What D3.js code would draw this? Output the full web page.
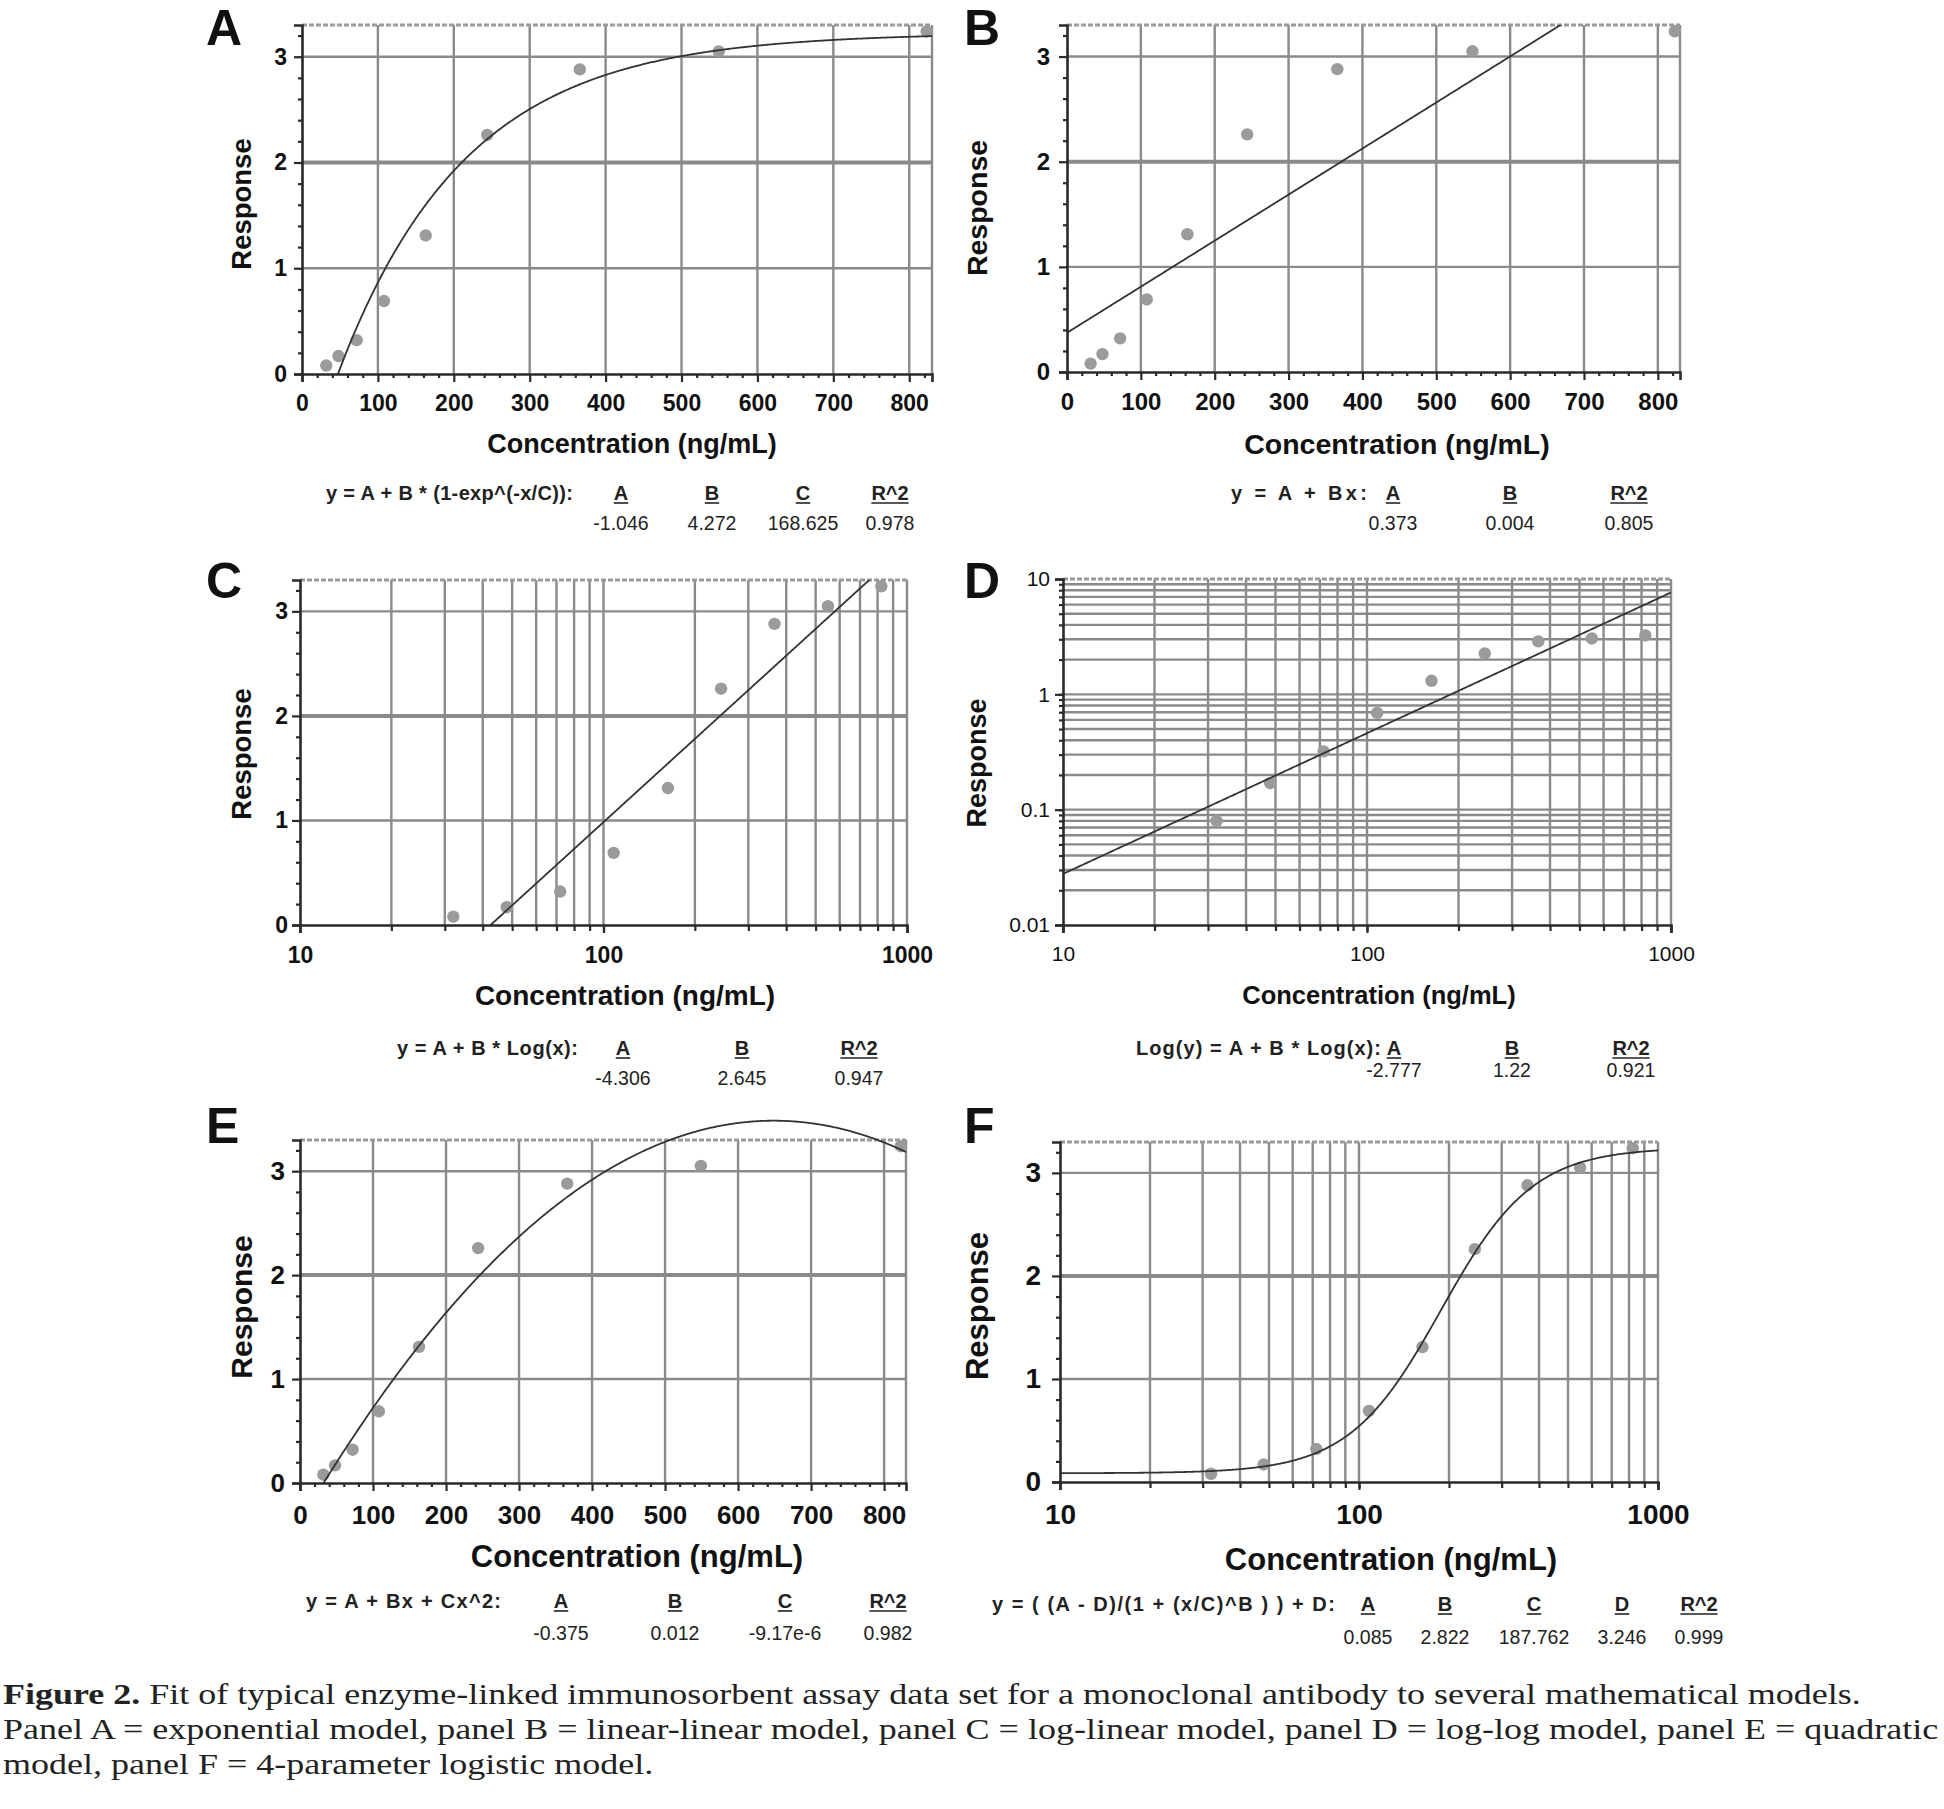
<!DOCTYPE html>
<html><head><meta charset="utf-8">
<script src="https://cdn.jsdelivr.net/npm/d3@7"></script>
<style>
body{margin:0;background:#fff;}
svg{display:block;}
</style>
</head><body>
<svg id="fig" width="1944" height="1809"></svg>
<script>
// ---------------- DATA ----------------
const concentration = [32, 48, 72, 108, 163, 244, 366, 549, 823];
const response      = [0.08, 0.17, 0.32, 0.69, 1.31, 2.26, 2.88, 3.05, 3.24];

const linearXTickLabels = [0, 100, 200, 300, 400, 500, 600, 700, 800];
const logXTickLabels    = [10, 100, 1000];
const linearYTickLabels = [0, 1, 2, 3];
const logYTickLabels    = [0.01, 0.1, 1, 10];

// fitted-model parameters (used to draw the fit lines)
const paramsA = [-1.046, 4.272, 168.625];          // y = A + B(1-exp(-x/C))
const paramsB = [0.373, 0.00438];                  // y = A + Bx
const paramsC = [-4.306, 2.645];                   // y = A + B log(x)
const paramsD = [-2.777, 1.22];                    // log y = A + B log(x)
const paramsE = [-0.375, 0.0119, -9.17e-6];        // y = A + Bx + Cx^2
const paramsF = [0.085, 2.822, 187.762, 3.246];    // 4PL

// table text shown under each panel
const equationTexts = [
  "y = A + B * (1-exp^(-x/C)):",
  "y = A + Bx:",
  "y = A + B * Log(x):",
  "Log(y) = A + B * Log(x):",
  "y = A + Bx + Cx^2:",
  "y = ( (A - D)/(1 + (x/C)^B ) ) + D:"
];
const tableHeaders = [
  ["A","B","C","R^2"],
  ["A","B","R^2"],
  ["A","B","R^2"],
  ["A","B","R^2"],
  ["A","B","C","R^2"],
  ["A","B","C","D","R^2"]
];
const tableValues = [
  ["-1.046","4.272","168.625","0.978"],
  ["0.373","0.004","0.805"],
  ["-4.306","2.645","0.947"],
  ["-2.777","1.22","0.921"],
  ["-0.375","0.012","-9.17e-6","0.982"],
  ["0.085","2.822","187.762","3.246","0.999"]
];
const panelLetters = ["A","B","C","D","E","F"];
const xTitle = "Concentration (ng/mL)";
const yTitle = "Response";
const captionBold = "Figure 2.";
const captionLines = [
  " Fit of typical enzyme-linked immunosorbent assay data set for a monoclonal antibody to several mathematical models.",
  "Panel A = exponential model, panel B = linear-linear model, panel C = log-linear model, panel D = log-log model, panel E = quadratic",
  "model, panel F = 4-parameter logistic model."
];

// model functions
const models = [
  x => paramsA[0] + paramsA[1]*(1 - Math.exp(-x/paramsA[2])),
  x => paramsB[0] + paramsB[1]*x,
  x => paramsC[0] + paramsC[1]*Math.log10(x),
  x => Math.pow(10, paramsD[0] + paramsD[1]*Math.log10(x)),
  x => paramsE[0] + paramsE[1]*x + paramsE[2]*x*x,
  x => (paramsF[0]-paramsF[3])/(1 + Math.pow(x/paramsF[2], paramsF[1])) + paramsF[3]
];

// ---------------- LAYOUT ----------------
const layout = [
  {x0:302, x1:932, y0:374, y1:25, xLog:false, yLog:false, letter:[206,45], resp:[241,204,27.5], title:[632,444,27],
   tickFont:23, xLabDy:37, yLabGap:15, eq:{end:573, w:247, hy:500, vy:530, cols:[621,712,803,890]}, yThick:true, clipTop:0},
  {x0:1067, x1:1680, y0:372, y1:25, xLog:false, yLog:false, letter:[964,45], resp:[977,208,28.5], title:[1397,444,28.5],
   tickFont:24, xLabDy:38, yLabGap:17, eq:{end:1367, w:136, hy:500, vy:530, cols:[1393,1510,1629]}, yThick:true, clipTop:0},
  {x0:300, x1:907, y0:925, y1:580, xLog:true, yLog:false, letter:[206,598], resp:[241,754,27.5], title:[625,995,28],
   tickFont:23, xLabDy:38, yLabGap:12, eq:{end:578, w:181, hy:1055, vy:1085, cols:[623,742,859]}, yThick:true, clipTop:0},
  {x0:1063, x1:1671, y0:925, y1:579, xLog:true, yLog:true, letter:[964,598], resp:[977,763,27], title:[1379,995,25.5],
   tickFont:21, xLabDy:36, yLabGap:13, eq:{end:1381, w:245, hy:1055, vy:1077, cols:[1394,1512,1631]}, yThick:false, clipTop:0, light:true},
  {x0:300, x1:906, y0:1483, y1:1140, xLog:false, yLog:false, letter:[206,1143], resp:[241,1307,30], title:[637,1556,31],
   tickFont:26, xLabDy:41, yLabGap:15, eq:{end:501, w:195, hy:1608, vy:1640, cols:[561,675,785,888]}, yThick:true, clipTop:60},
  {x0:1060, x1:1658, y0:1482, y1:1142, xLog:true, yLog:false, letter:[964,1143], resp:[977,1306,31], title:[1391,1559,31],
   tickFont:28, xLabDy:42, yLabGap:19, eq:{end:1335, w:343, hy:1611, vy:1644, cols:[1368,1445,1534,1622,1699]}, yThick:true, clipTop:0}
];

const svg = d3.select("#fig");
const FONT = "'Liberation Sans', Arial, sans-serif";
const GRID = "#8a8a8a";
const AXIS = "#2a2a2a";

layout.forEach((L, i) => {
  const g = svg.append("g");
  const x = L.xLog ? d3.scaleLog().domain([10, 1000]).range([L.x0, L.x1])
                   : d3.scaleLinear().domain([0, 830]).range([L.x0, L.x1]);
  const y = L.yLog ? d3.scaleLog().domain([0.01, 10]).range([L.y0, L.y1])
                   : d3.scaleLinear().domain([0, 3.3]).range([L.y0, L.y1]);

  // grid positions
  let xGrid, xMinor;
  if (L.xLog) {
    xGrid = [];
    [10, 100].forEach(d => { for (let k = 1; k <= 9; k++) xGrid.push(d*k); });
    xGrid = xGrid.filter(v => v > 10);
    xMinor = xGrid.slice();
  } else {
    xGrid = linearXTickLabels.filter(v => v > 0);
    xMinor = d3.range(20, 830, 20).filter(v => v % 100 !== 0);
  }
  let yGrid, yMinor;
  if (L.yLog) {
    yGrid = [];
    [0.01, 0.1, 1].forEach(d => { for (let k = 1; k <= 9; k++) yGrid.push(d*k); });
    yGrid = yGrid.filter(v => v > 0.0100001);
    yMinor = yGrid.slice();
  } else {
    yGrid = [1, 2, 3];
    yMinor = d3.range(0.2, 3.3, 0.2).filter(v => Math.abs(v - Math.round(v)) > 0.01);
  }

  // vertical grid
  g.append("g").selectAll("line").data(xGrid).join("line")
    .attr("x1", d => x(d)).attr("x2", d => x(d))
    .attr("y1", L.y0).attr("y2", L.y1)
    .attr("stroke", GRID).attr("stroke-width", 2.4);
  // horizontal grid
  g.append("g").selectAll("line").data(yGrid).join("line")
    .attr("x1", L.x0).attr("x2", L.x1)
    .attr("y1", d => y(d)).attr("y2", d => y(d))
    .attr("stroke", GRID)
    .attr("stroke-width", d => (L.yThick && d === 2) ? 4 : 2.4);
  // right frame & top frame
  g.append("line").attr("x1", L.x1).attr("x2", L.x1).attr("y1", L.y0).attr("y2", L.y1)
    .attr("stroke", GRID).attr("stroke-width", 2.4);
  g.append("line").attr("x1", L.x0).attr("x2", L.x1).attr("y1", L.y1).attr("y2", L.y1)
    .attr("stroke", "#9a9a9a").attr("stroke-width", 3).attr("stroke-dasharray", "5,2");

  // clip
  const cid = "clip" + i;
  svg.append("defs").append("clipPath").attr("id", cid).append("rect")
    .attr("x", L.x0).attr("y", L.y1 - L.clipTop)
    .attr("width", L.x1 - L.x0).attr("height", L.y0 - L.y1 + L.clipTop);

  // points
  g.append("g").selectAll("circle").data(concentration.map((c, k) => [c, response[k]])).join("circle")
    .attr("cx", d => x(d[0])).attr("cy", d => y(d[1])).attr("r", 6.2)
    .attr("fill", "#9b9b9b");

  // fitted curve
  const xs = L.xLog
    ? d3.range(0, 601).map(k => Math.pow(10, 1 + 2*k/600))
    : d3.range(0, 601).map(k => 830*k/600);
  const line = d3.line().x(d => x(d)).y(d => y(models[i](d))).defined(d => isFinite(models[i](d)) && models[i](d) > (L.yLog ? 0 : -5));
  g.append("path").datum(xs).attr("d", line)
    .attr("fill", "none").attr("stroke", "#333").attr("stroke-width", 1.8)
    .attr("clip-path", `url(#${cid})`);

  // axes
  const fmtY = L.yLog ? (d => String(d)) : d3.format("d");
  const yAx = g.append("g").attr("transform", `translate(${L.x0},0)`)
    .call(d3.axisLeft(y).tickValues(L.yLog ? logYTickLabels : linearYTickLabels)
      .tickSize(8).tickPadding(L.yLabGap - 8).tickFormat(fmtY));
  const yMin = g.append("g").attr("transform", `translate(${L.x0},0)`)
    .call(d3.axisLeft(y).tickValues(yMinor).tickSize(4).tickFormat(""));
  const xAx = g.append("g").attr("transform", `translate(0,${L.y0})`)
    .call(d3.axisBottom(x).tickValues(L.xLog ? logXTickLabels : linearXTickLabels)
      .tickSize(8).tickPadding(L.xLabDy - 8 - L.tickFont*0.72).tickFormat(d3.format("d")));
  const xMin = g.append("g").attr("transform", `translate(0,${L.y0})`)
    .call(d3.axisBottom(x).tickValues(xMinor).tickSize(L.xLog ? 6 : 4).tickFormat(""));

  [yAx, yMin, xAx, xMin].forEach(a => {
    a.select(".domain").attr("stroke", AXIS).attr("stroke-width", 2.6);
    a.selectAll(".tick line").attr("stroke", AXIS).attr("stroke-width", 2.2);
    a.selectAll("text").attr("font-family", FONT).attr("font-size", L.tickFont)
      .attr("font-weight", L.light ? 400 : 700).attr("fill", "#111");
  });
  xMin.select(".domain").remove();
  yMin.select(".domain").remove();

  // panel letter
  svg.append("text").attr("x", L.letter[0]).attr("y", L.letter[1])
    .attr("font-family", FONT).attr("font-weight", 700).attr("font-size", 50)
    .attr("fill", "#111").text(panelLetters[i]);

  // axis titles
  svg.append("text").attr("transform", `translate(${L.resp[0]},${L.resp[1]}) rotate(-90)`)
    .attr("text-anchor", "middle").attr("dominant-baseline", "central")
    .attr("font-family", FONT).attr("font-weight", 700).attr("font-size", L.resp[2])
    .attr("fill", "#111").text(yTitle);
  svg.append("text").attr("x", L.title[0]).attr("y", L.title[1])
    .attr("text-anchor", "middle").attr("dominant-baseline", "central")
    .attr("font-family", FONT).attr("font-weight", 700).attr("font-size", L.title[2])
    .attr("fill", "#111").text(xTitle);

  // equation table
  svg.append("text").attr("x", L.eq.end - L.eq.w).attr("y", L.eq.hy).attr("text-anchor", "start")
    .attr("font-family", FONT).attr("font-weight", 700).attr("font-size", 20)
    .attr("textLength", L.eq.w).attr("lengthAdjust", "spacing")
    .attr("fill", "#222").text(equationTexts[i]);
  tableHeaders[i].forEach((h, k) => {
    const t = svg.append("text").attr("x", L.eq.cols[k]).attr("y", L.eq.hy).attr("text-anchor", "middle")
      .attr("font-family", FONT).attr("font-weight", 700).attr("font-size", 20)
      .attr("fill", "#222").text(h);
    const w = t.node().getComputedTextLength();
    svg.append("line").attr("x1", L.eq.cols[k] - w/2).attr("x2", L.eq.cols[k] + w/2)
      .attr("y1", L.eq.hy + 3).attr("y2", L.eq.hy + 3).attr("stroke", "#222").attr("stroke-width", 1.6);
    svg.append("text").attr("x", L.eq.cols[k]).attr("y", L.eq.vy).attr("text-anchor", "middle")
      .attr("font-family", FONT).attr("font-weight", 400).attr("font-size", 19.5)
      .attr("fill", "#222").text(tableValues[i][k]);
  });
});

// ---------------- CAPTION ----------------
const SERIF = "'Liberation Serif', 'Times New Roman', serif";
const capY = [1704, 1739, 1774];
const capText = svg.append("g").attr("font-family", SERIF).attr("fill", "#222");
const l1 = capText.append("text").attr("x", 3).attr("y", capY[0]);
l1.append("tspan").attr("font-weight", 700).text(captionBold);
l1.append("tspan").text(captionLines[0]);
const l2 = capText.append("text").attr("x", 3).attr("y", capY[1]).text(captionLines[1]);
const l3 = capText.append("text").attr("x", 3).attr("y", capY[2]).text(captionLines[2]);
// measure widths at the size that makes line 2 span the figure, then use a slightly smaller,
// horizontally stretched face (the source text is wide and short)
capText.attr("font-size", 28);
const w2 = l2.node().getComputedTextLength();
capText.attr("font-size", 28 * 1936 / w2);
const widths = [l1, l2, l3].map(t => t.node().getComputedTextLength());
capText.attr("font-size", 28.5);
[l1, l2, l3].forEach((t, k) => t.attr("textLength", widths[k]).attr("lengthAdjust", "spacingAndGlyphs"));
</script>
</body></html>
